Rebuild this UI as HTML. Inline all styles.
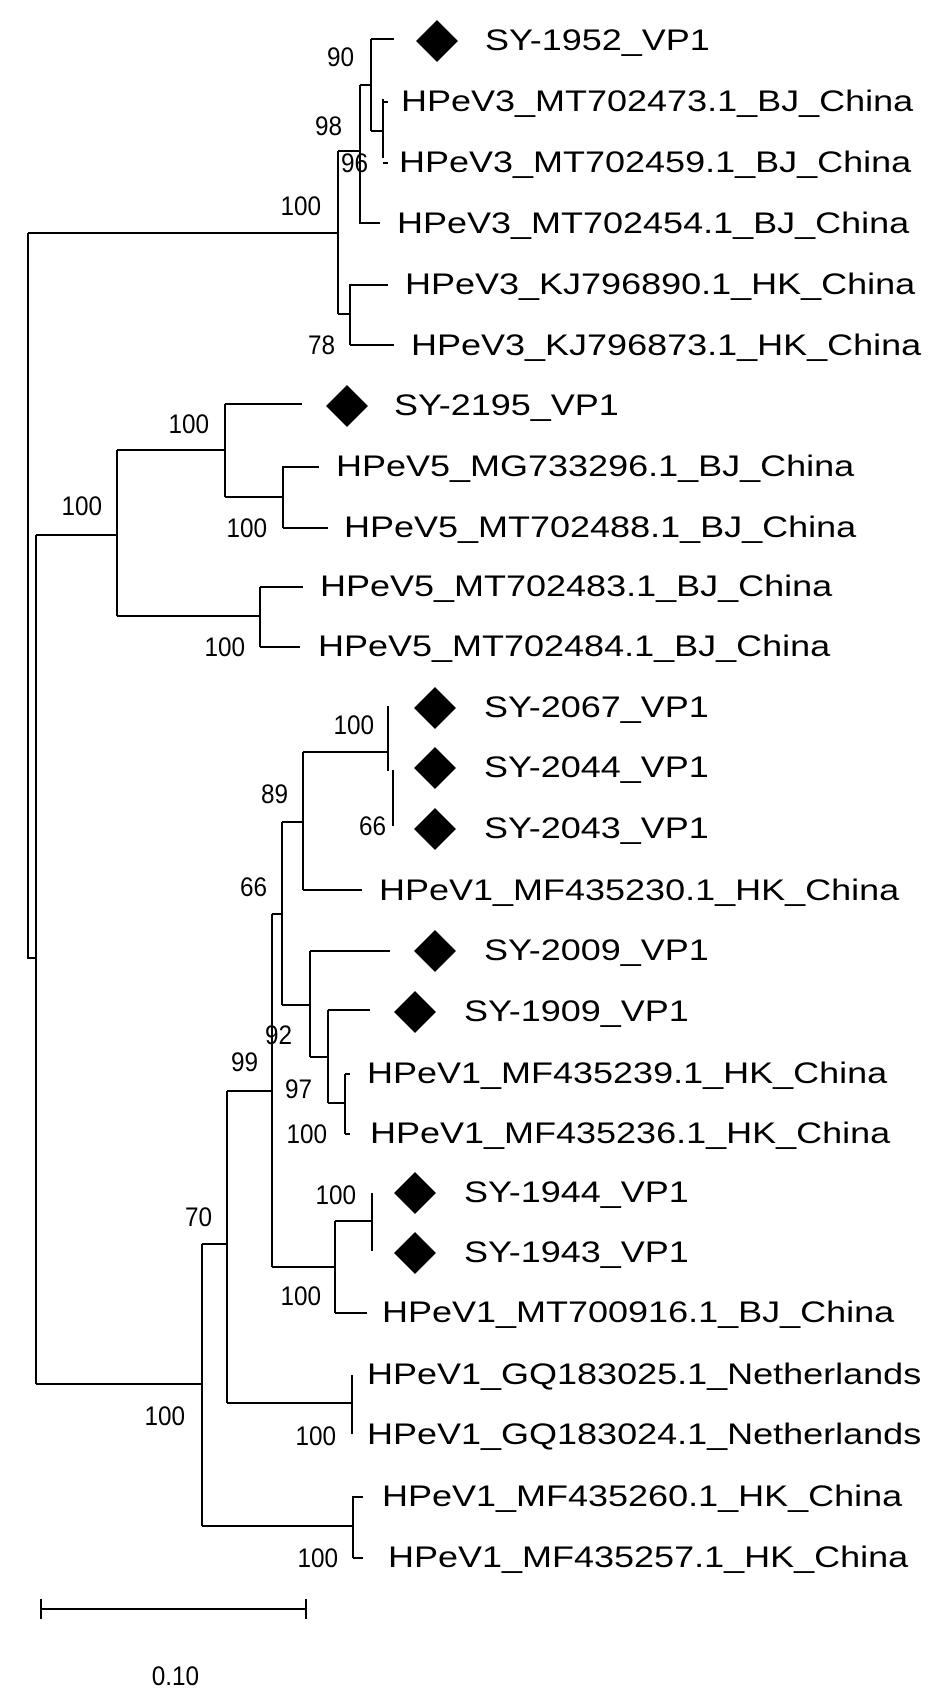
<!DOCTYPE html>
<html><head><meta charset="utf-8"><style>
html,body{margin:0;padding:0;background:#fff;}
svg{display:block}
.l{font-family:"Liberation Sans",Arial,sans-serif;font-size:30px;fill:#000}
.b{font-family:"Liberation Sans",Arial,sans-serif;font-size:27px;fill:#000;text-anchor:end}
</style></head><body>
<svg width="945" height="1703" viewBox="0 0 945 1703" xmlns="http://www.w3.org/2000/svg">
<g stroke="#000" stroke-width="2" fill="none">
<path d="M28 233V958H36M28 233H338"/>
<path d="M338 151V314M338 151H360M360 85V223H380M360 85H371M371 39V131M371 39H394M371 131H383M383 99V158M383 102H388M383 163H388"/>
<path d="M338 314H350M350 284V345M350 285H388M350 345H394"/>
<path d="M36 535V1384M36 535H117M117 450V616"/>
<path d="M117 450H225M225 404V497M225 404H302M225 497H283M283 466V528M283 467H319M283 528H328"/>
<path d="M117 616H260M260 587V647M260 587H303M260 647H300"/>
<path d="M36 1384H202M202 1244V1526M202 1244H227M227 1091V1403M227 1091H272M272 914V1267M272 914H282M282 822V1005"/>
<path d="M282 822H303M303 752V890M303 890H362M303 752H388M388 706V771M393 770V826"/>
<path d="M282 1005H310M310 951V1057M310 951H390M310 1057H328M328 1010V1103M328 1010H370M328 1103H345M345 1074V1134M345 1074H350M345 1134H350"/>
<path d="M272 1267H335M335 1221V1313M335 1313H367M335 1221H372M372 1193V1251"/>
<path d="M227 1403H352M352 1375V1434"/>
<path d="M202 1526H353M353 1496V1558M353 1497H363M353 1558H363"/>
<path d="M41 1609H306M41 1599V1619M306 1599V1619"/>
</g>
<g fill="#000">
<polygon points="437,20 458,41 437,62 416,41"/>
<polygon points="347,385 368,406 347,427 326,406"/>
<polygon points="435,687 456,708 435,729 414,708"/>
<polygon points="435,747 456,768 435,789 414,768"/>
<polygon points="435,808 456,829 435,850 414,829"/>
<polygon points="435,930 456,951 435,972 414,951"/>
<polygon points="415,991 436,1012 415,1033 394,1012"/>
<polygon points="415,1172 436,1193 415,1214 394,1193"/>
<polygon points="415,1232 436,1253 415,1274 394,1253"/>
</g>
<g class="l">
<text transform="translate(485,50) scale(1.2,1)">SY-1952_VP1</text>
<text transform="translate(401,111) scale(1.2,1)">HPeV3_MT702473.1_BJ_China</text>
<text transform="translate(399,172) scale(1.2,1)">HPeV3_MT702459.1_BJ_China</text>
<text transform="translate(397,233) scale(1.2,1)">HPeV3_MT702454.1_BJ_China</text>
<text transform="translate(405,294) scale(1.2,1)">HPeV3_KJ796890.1_HK_China</text>
<text transform="translate(411,355) scale(1.2,1)">HPeV3_KJ796873.1_HK_China</text>
<text transform="translate(394,415) scale(1.2,1)">SY-2195_VP1</text>
<text transform="translate(336,476) scale(1.2,1)">HPeV5_MG733296.1_BJ_China</text>
<text transform="translate(344,537) scale(1.2,1)">HPeV5_MT702488.1_BJ_China</text>
<text transform="translate(320,596) scale(1.2,1)">HPeV5_MT702483.1_BJ_China</text>
<text transform="translate(318,656) scale(1.2,1)">HPeV5_MT702484.1_BJ_China</text>
<text transform="translate(484,717) scale(1.2,1)">SY-2067_VP1</text>
<text transform="translate(484,777) scale(1.2,1)">SY-2044_VP1</text>
<text transform="translate(484,838) scale(1.2,1)">SY-2043_VP1</text>
<text transform="translate(379,900) scale(1.2,1)">HPeV1_MF435230.1_HK_China</text>
<text transform="translate(484,960) scale(1.2,1)">SY-2009_VP1</text>
<text transform="translate(464,1021) scale(1.2,1)">SY-1909_VP1</text>
<text transform="translate(367,1083) scale(1.2,1)">HPeV1_MF435239.1_HK_China</text>
<text transform="translate(370,1143) scale(1.2,1)">HPeV1_MF435236.1_HK_China</text>
<text transform="translate(464,1202) scale(1.2,1)">SY-1944_VP1</text>
<text transform="translate(464,1262) scale(1.2,1)">SY-1943_VP1</text>
<text transform="translate(382,1322) scale(1.2,1)">HPeV1_MT700916.1_BJ_China</text>
<text transform="translate(367,1384) scale(1.2,1)">HPeV1_GQ183025.1_Netherlands</text>
<text transform="translate(367,1444) scale(1.2,1)">HPeV1_GQ183024.1_Netherlands</text>
<text transform="translate(382,1506) scale(1.2,1)">HPeV1_MF435260.1_HK_China</text>
<text transform="translate(388,1567) scale(1.2,1)">HPeV1_MF435257.1_HK_China</text>
</g>
<g class="b">
<text transform="translate(354,66) scale(0.9,1)">90</text>
<text transform="translate(342,135) scale(0.9,1)">98</text>
<text transform="translate(368,172) scale(0.9,1)">96</text>
<text transform="translate(321,215) scale(0.9,1)">100</text>
<text transform="translate(335,354) scale(0.9,1)">78</text>
<text transform="translate(209,433) scale(0.9,1)">100</text>
<text transform="translate(267,537) scale(0.9,1)">100</text>
<text transform="translate(102,515) scale(0.9,1)">100</text>
<text transform="translate(245,656) scale(0.9,1)">100</text>
<text transform="translate(374,734) scale(0.9,1)">100</text>
<text transform="translate(386,835) scale(0.9,1)">66</text>
<text transform="translate(288,803) scale(0.9,1)">89</text>
<text transform="translate(267,896) scale(0.9,1)">66</text>
<text transform="translate(292,1044) scale(0.9,1)">92</text>
<text transform="translate(312,1098) scale(0.9,1)">97</text>
<text transform="translate(327,1143) scale(0.9,1)">100</text>
<text transform="translate(258,1071) scale(0.9,1)">99</text>
<text transform="translate(356,1204) scale(0.9,1)">100</text>
<text transform="translate(321,1305) scale(0.9,1)">100</text>
<text transform="translate(212,1226) scale(0.9,1)">70</text>
<text transform="translate(185,1425) scale(0.9,1)">100</text>
<text transform="translate(336,1445) scale(0.9,1)">100</text>
<text transform="translate(338,1567) scale(0.9,1)">100</text>
<text transform="translate(199,1685) scale(0.9,1)">0.10</text>
</g>
</svg>
</body></html>
